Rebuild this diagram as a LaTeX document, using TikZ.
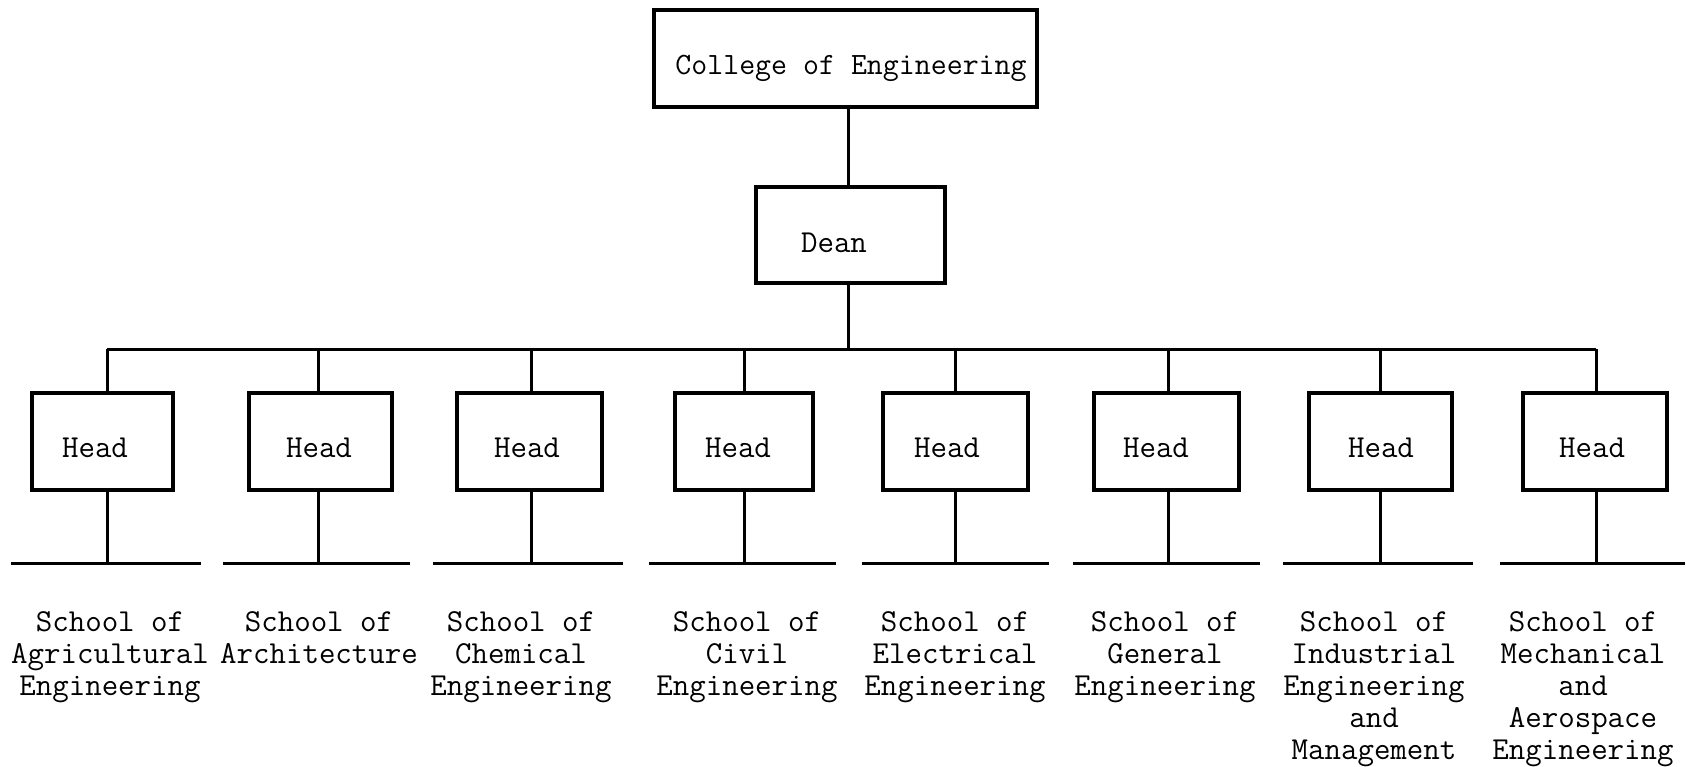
\documentclass[tikz,border=0pt]{standalone}
\usepackage{fontspec}
\begin{document}
\begin{tikzpicture}[x=1pt,y=-1pt,
  line width=3pt,
  every node/.style={font=\ttfamily\fontsize{32}{32}\selectfont, inner sep=0pt},
  txt/.style={anchor=base},
  box/.style={draw, line width=3.2pt, minimum height=97pt, rectangle},
  headbox/.style={box, minimum width=143pt},
  lbl/.style={align=center, anchor=north}]
\useasboundingbox (0,0) rectangle (1686,767);
\fill[white] (0,0) rectangle (1686,767);

% top boxes
\node[box, minimum width=383pt] (college) at (845.5,58.5) {};
\node[txt, font=\ttfamily\fontsize{31}{32}\selectfont] (collegetxt) at (851,75) {College of Engineering};
\node[box, minimum width=189pt, minimum height=96pt] (dean) at (850.5,235) {};
\node[txt] (deantxt) at (834,253) {Dean};

\coordinate (busL) at (107,349);
\coordinate (busR) at (1596,349);
\coordinate (busM) at (848,349);
\draw (college.south -| busM) -- (dean.north -| busM);
\draw (dean.south -| busM) -- (busM);
\draw (busL) -- (busR);

% heads: index/center x/width/vertical x/bottom line from/to/text x
\foreach \i/\cx/\w/\vx/\la/\lb/\tx in {
  1/102.5/141/107/11/201/95,
  2/320.5/143/318/223/410/319,
  3/529.5/145/531/433/623/527,
  4/744/138/744/649/836/738,
  5/955.5/145/955/862/1049/947,
  6/1166.5/145/1168/1073/1260/1156,
  7/1380.5/143/1380/1283/1473/1381,
  8/1595/144/1596/1500/1685/1592}{
  \node[headbox, minimum width=\w pt] (h\i) at (\cx,441.5) {};
  \node[txt] (ht\i) at (\tx,457) {Head};
  \coordinate (t\i) at (\vx,349);
  \coordinate (b\i) at (\vx,563);
  \coordinate (bl\i) at (\la,563);
  \coordinate (br\i) at (\lb,563);
  \draw (t\i) -- (t\i |- h\i.north);
  \draw (h\i.south -| b\i) -- (b\i);
  \draw (bl\i) -- (br\i);
}

% labels
\node[lbl] (l1) at (110,610) {School of\\Agricultural\\Engineering};
\node[lbl] (l2) at (319,610) {School of\\Architecture};
\node[lbl] (l3) at (521,610) {School of\\Chemical\\Engineering};
\node[lbl] (l4) at (747,610) {School of\\Civil\\Engineering};
\node[lbl] (l5) at (955,610) {School of\\Electrical\\Engineering};
\node[lbl] (l6) at (1165,610) {School of\\General\\Engineering};
\node[lbl] (l7) at (1374,610) {School of\\Industrial\\Engineering\\and\\Management};
\node[lbl] (l8) at (1583,610) {School of\\Mechanical\\and\\Aerospace\\Engineering};
\end{tikzpicture}
\end{document}
